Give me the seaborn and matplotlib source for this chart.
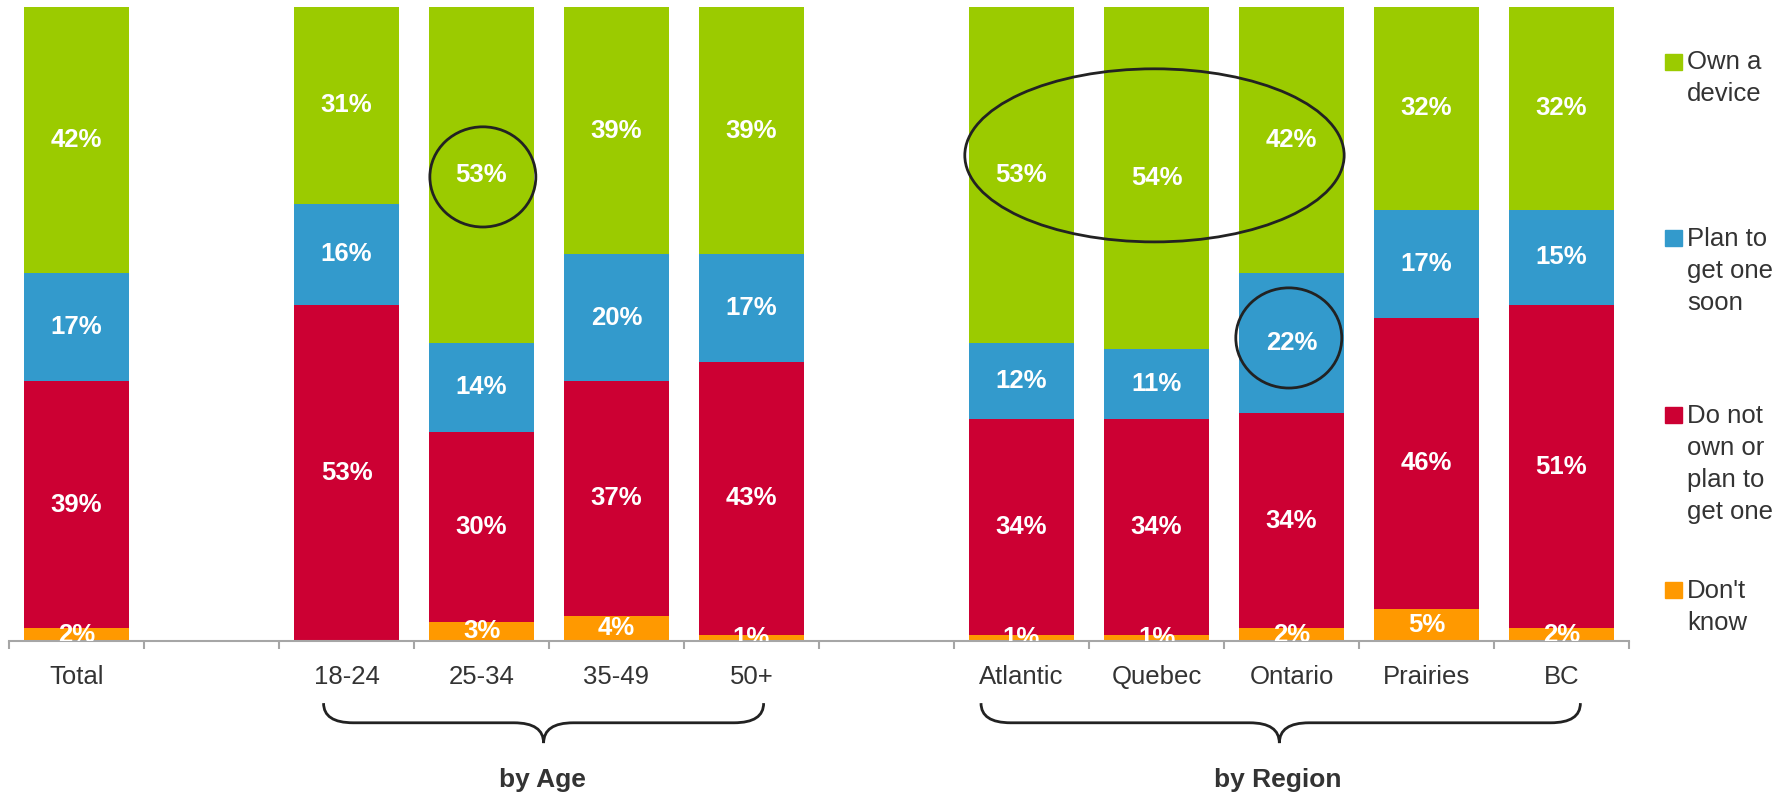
import matplotlib.pyplot as plt
import seaborn as sns
import pandas as pd
import numpy as np
import matplotlib.transforms as mtransforms
from matplotlib.patches import Ellipse, Rectangle, PathPatch
from matplotlib.path import Path

# %%
# data
slots = ["Total", "gap1", "18-24", "25-34", "35-49", "50+", "gap2",
         "Atlantic", "Quebec", "Ontario", "Prairies", "BC"]
tick_labels = ["Total", "", "18-24", "25-34", "35-49", "50+", "",
               "Atlantic", "Quebec", "Ontario", "Prairies", "BC"]
categories = ["Total", "18-24", "25-34", "35-49", "50+",
              "Atlantic", "Quebec", "Ontario", "Prairies", "BC"]
own = [42, 31, 53, 39, 39, 53, 54, 42, 32, 32]
plan = [17, 16, 14, 20, 17, 12, 11, 22, 17, 15]
not_own = [39, 53, 30, 37, 43, 34, 34, 34, 46, 51]
dont_know = [2, 0, 3, 4, 1, 1, 1, 2, 5, 2]
series_names = ["Own a\ndevice", "Plan to\nget one\nsoon",
                "Do not\nown or\nplan to\nget one", "Don't\nknow"]
colors = ["#9BCB00", "#339ACC", "#CC0033", "#FF9900"]

df = pd.DataFrame({"category": categories, "own": own, "plan": plan,
                   "not_own": not_own, "dont_know": dont_know})
# cumulative tops, bottom to top: dont_know, not_own, plan, own
df["top_dk"] = df["dont_know"]
df["top_no"] = df["top_dk"] + df["not_own"]
df["top_plan"] = df["top_no"] + df["plan"]
df["top_own"] = df["top_plan"] + df["own"]

# %%
sns.set_style("white")
plt.rcParams['font.family'] = ['Liberation Sans', 'DejaVu Sans']

fig = plt.figure(figsize=(17.9, 7.96), dpi=100)
W, H = 1790, 796
ax = fig.add_axes([9 / W, 155 / H, 1620 / W, 634 / H])

# overplot the stacked layers, tallest first
for col, c in zip(["top_own", "top_plan", "top_no", "top_dk"], colors):
    sns.barplot(data=df, x="category", y=col, order=slots, color=c,
                saturation=1, width=0.78, errorbar=None, linewidth=0, ax=ax)

ax.set_xlim(-0.5, len(slots) - 0.5)
ax.set_ylim(0, 100)
ax.set_xlabel("")
ax.set_ylabel("")
ax.set_yticks([])
for s in ["top", "left", "right"]:
    ax.spines[s].set_visible(False)
ax.spines["bottom"].set_color("#A6A6A6")
ax.spines["bottom"].set_linewidth(1.5)

# ticks at slot boundaries, labels at slot centers
ax.set_xticks(np.arange(len(slots) + 1) - 0.5)
ax.set_xticklabels([])
ax.set_xticks(np.arange(len(slots)), minor=True)
ax.set_xticklabels(tick_labels, minor=True, fontsize=18.5, color="#333333")
ax.tick_params(axis="x", which="major", length=6, width=1.5, color="#A6A6A6", bottom=True)
ax.tick_params(axis="x", which="minor", length=0, pad=17)

# value labels
for i, cat in enumerate(categories):
    x = slots.index(cat)
    bottom = 0
    for v in [dont_know[i], not_own[i], plan[i], own[i]]:
        if v > 0:
            ax.text(x, bottom + v / 2, f"{v}%", ha="center", va="center",
                    color="white", fontsize=18.5, fontweight="bold", clip_on=True)
        bottom += v

# highlight ellipses
for (xc, yc, w, h) in [(3.01, 73.2, 0.785, 15.8), (7.985, 76.6, 2.81, 27.3), (8.98, 47.8, 0.785, 15.8)]:
    ax.add_patch(Ellipse((xc, yc), w, h, fill=False, edgecolor="#222222", lw=2, zorder=5))

# group braces
trans = mtransforms.blended_transform_factory(ax.transData, ax.transAxes)
def brace(x0, x1, xm, r=0.22, ytop=-0.098, ymid=-0.129, ybot=-0.161):
    verts = [(x0, ytop), (x0, ymid), (x0 + r, ymid),
             (xm - r, ymid),
             (xm, ymid), (xm, ybot),
             (xm, ymid), (xm + r, ymid),
             (x1 - r, ymid),
             (x1, ymid), (x1, ytop)]
    codes = [Path.MOVETO, Path.CURVE3, Path.CURVE3,
             Path.LINETO,
             Path.CURVE3, Path.CURVE3,
             Path.CURVE3, Path.CURVE3,
             Path.LINETO,
             Path.CURVE3, Path.CURVE3]
    ax.add_patch(PathPatch(Path(verts, codes), fill=False, edgecolor="#222222",
                           lw=2, transform=trans, clip_on=False))

brace(1.83, 5.09, 3.46)
brace(6.7, 11.14, 8.91)
ax.text(3.45, -0.219, "by Age", transform=trans, ha="center", va="center",
        fontsize=19, fontweight="bold", color="#333333")
ax.text(8.9, -0.219, "by Region", transform=trans, ha="center", va="center",
        fontsize=19, fontweight="bold", color="#333333")

# legend drawn by hand, squares aligned with first line
sq_top = [54, 230, 407, 582]
baselines = [69, 246, 423, 598]
for name, c, st, bl in zip(series_names, colors, sq_top, baselines):
    fig.patches.append(Rectangle((1665 / W, 1 - (st + 16) / H), 17 / W, 16 / H,
                                 transform=fig.transFigure, color=c))
    for k, line in enumerate(name.split("\n")):
        fig.text(1687 / W, 1 - (bl + 32 * k) / H, line, ha="left", va="baseline",
                 fontsize=18.5, color="#333333")

plt.savefig("out.png", dpi=100)
